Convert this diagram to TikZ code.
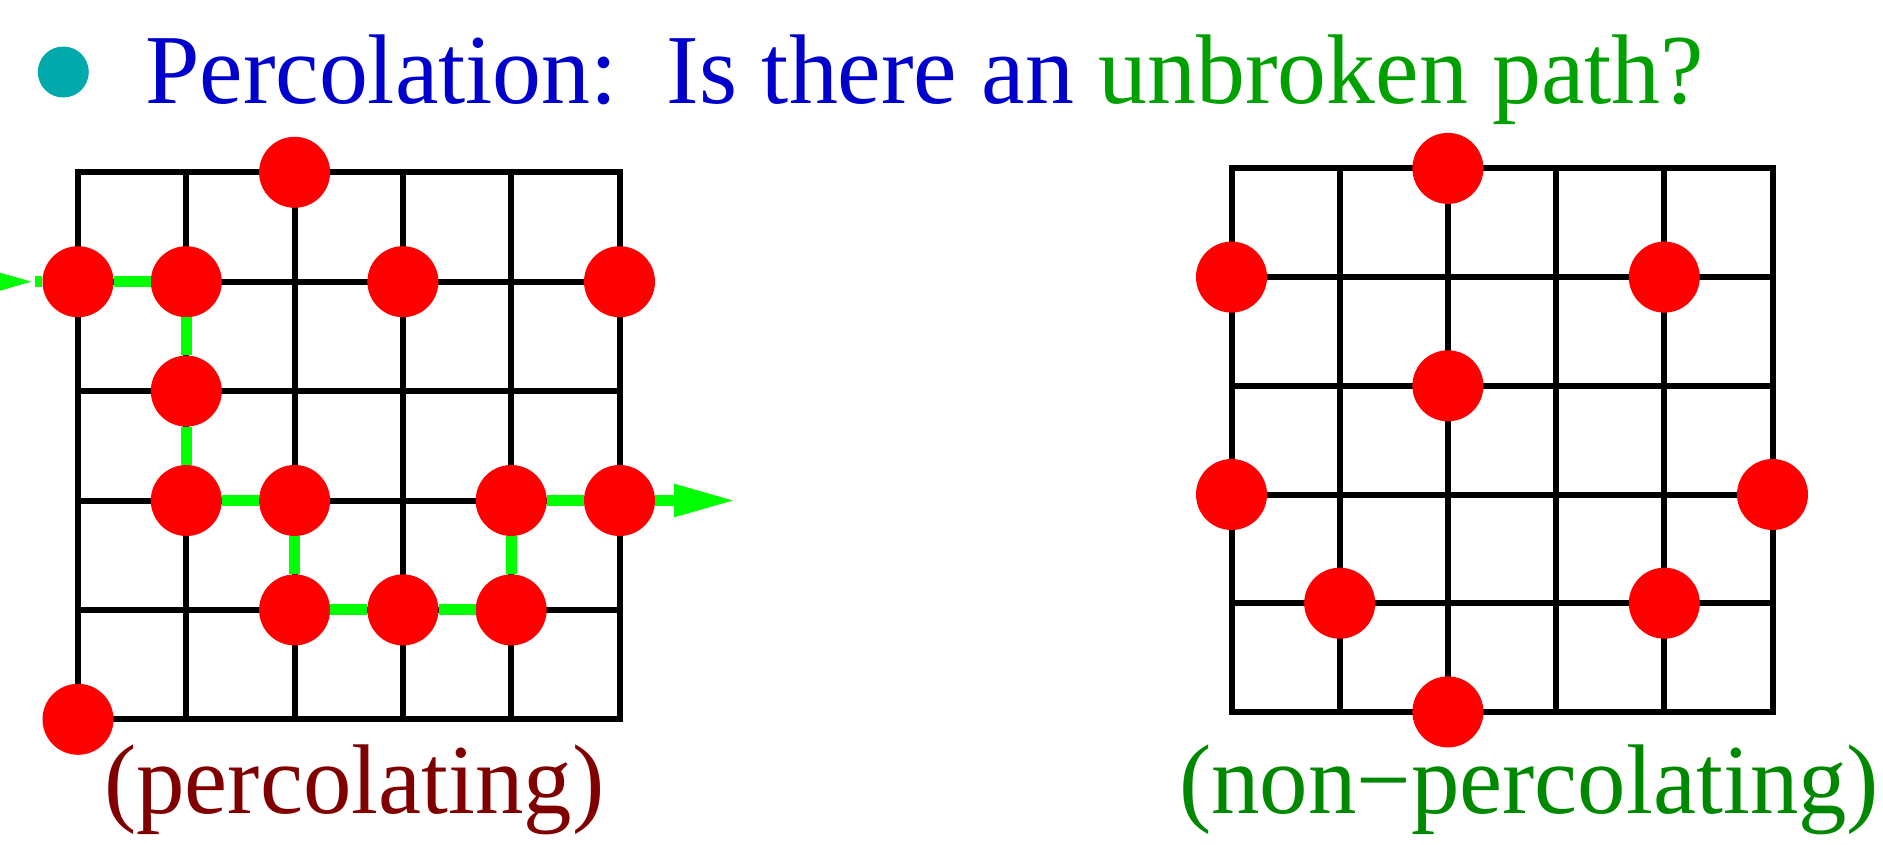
\documentclass[tikz,border=0pt]{standalone}
\usepackage{fontspec}
\setmainfont{Liberation Serif}
\newfontfamily\headfont[FakeStretch=0.988]{Liberation Serif}
\newfontfamily\labelfont[FakeStretch=0.978]{Liberation Serif}
\usepackage{xcolor}
\usepackage{tikz}
\usetikzlibrary{arrows.meta,positioning}
\definecolor{titleblue}{RGB}{0,0,204}
\definecolor{pathgreen}{RGB}{0,160,0}
\definecolor{bulletteal}{RGB}{0,170,170}
\definecolor{sitered}{RGB}{255,0,0}
\definecolor{bondgreen}{RGB}{0,255,0}
\definecolor{percred}{RGB}{128,0,0}
\definecolor{nonpercgreen}{RGB}{0,136,0}

\begin{document}
\begin{tikzpicture}[
  x=1pt, y=-1pt,
  gridline/.style={draw=black, line width=6pt, line cap=rect},
  site/.style={circle, fill=sitered, minimum size=71pt, inner sep=0pt},
  bond/.style={draw=bondgreen, line width=11pt},
  bondarrow/.style={bond, -{Triangle[length=62pt,width=30pt]}},
  bigtext/.style={inner sep=0pt, anchor=base west, font=\fontsize{99}{110}\selectfont}
]
\useasboundingbox (0,0) rectangle (1883,844);

\node[circle, fill=bulletteal, minimum size=51pt, inner sep=0pt] (bullet) at (63.3,72) {};
\node[bigtext] (title) at (145,103) {\headfont\color{titleblue}Percolation:\ \ Is there an \color{pathgreen}unbroken path?};

% percolating lattice
\begin{scope}[shift={(78,172.3)}, x=108.3pt, y=-109.4pt]
  \foreach \k in {0,...,5} {
    \draw[gridline] (\k,0) -- (\k,5);
    \draw[gridline] (0,\k) -- (5,\k);
  }
  \node[site] (p20) at (2,0) {};
  \node[site] (p01) at (0,1) {};
  \node[site] (p11) at (1,1) {};
  \node[site] (p31) at (3,1) {};
  \node[site] (p51) at (5,1) {};
  \node[site] (p12) at (1,2) {};
  \node[site] (p13) at (1,3) {};
  \node[site] (p23) at (2,3) {};
  \node[site] (p43) at (4,3) {};
  \node[site] (p53) at (5,3) {};
  \node[site] (p24) at (2,4) {};
  \node[site] (p34) at (3,4) {};
  \node[site] (p44) at (4,4) {};
  \node[site] (p05) at (0,5) {};

  \coordinate[left=75pt of p01] (pstart);
  \coordinate[left=7.5pt of p01] (pin);
  \coordinate[right=81pt of p53] (pout);

  \draw[bondarrow] (pstart) -- (pin);
  \draw[bond] (pin) -- (p01);
  \draw[bond] (p01) -- (p11);
  \draw[bond] (p11) -- (p12);
  \draw[bond] (p12) -- (p13);
  \draw[bond] (p13) -- (p23);
  \draw[bond] (p23) -- (p24);
  \draw[bond] (p24) -- (p34);
  \draw[bond] (p34) -- (p44);
  \draw[bond] (p44) -- (p43);
  \draw[bond] (p43) -- (p53);
  \draw[bondarrow] (p53) -- (pout);
\end{scope}

% non-percolating lattice
\begin{scope}[shift={(1231.5,168.4)}, x=108.2pt, y=-108.7pt]
  \foreach \k in {0,...,5} {
    \draw[gridline] (\k,0) -- (\k,5);
    \draw[gridline] (0,\k) -- (5,\k);
  }
  \node[site] (q20) at (2,0) {};
  \node[site] (q01) at (0,1) {};
  \node[site] (q41) at (4,1) {};
  \node[site] (q22) at (2,2) {};
  \node[site] (q03) at (0,3) {};
  \node[site] (q53) at (5,3) {};
  \node[site] (q14) at (1,4) {};
  \node[site] (q44) at (4,4) {};
  \node[site] (q25) at (2,5) {};
\end{scope}

\node[bigtext, text=percred] (perclabel) at (104,813) {\labelfont(percolating)};
\node[bigtext, text=nonpercgreen] (nonperclabel) at (1179,813) {\labelfont(non\symbol{"2212}percolating)};
\end{tikzpicture}
\end{document}
